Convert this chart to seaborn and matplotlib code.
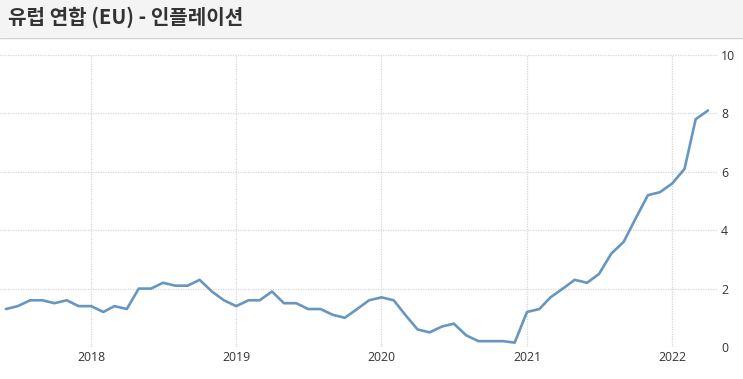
import pandas as pd
import numpy as np
import seaborn as sns
import matplotlib.pyplot as plt
import matplotlib.dates as mdates
from matplotlib.patches import Rectangle
from matplotlib.lines import Line2D

# EU inflation, monthly, Jun 2017 - Apr 2022
start_month = "2017-06-01"
inflation = [
    1.3, 1.4, 1.6, 1.6, 1.5, 1.6, 1.4,                          # 2017 Jun-Dec
    1.4, 1.2, 1.4, 1.3, 2.0, 2.0, 2.2, 2.1, 2.1, 2.3, 1.9, 1.6,  # 2018
    1.4, 1.6, 1.6, 1.9, 1.5, 1.5, 1.3, 1.3, 1.1, 1.0, 1.3, 1.6,  # 2019
    1.7, 1.6, 1.1, 0.6, 0.5, 0.7, 0.8, 0.4, 0.2, 0.2, 0.2, 0.15, # 2020
    1.2, 1.3, 1.7, 2.0, 2.3, 2.2, 2.5, 3.2, 3.6, 4.4, 5.2, 5.3,  # 2021
    5.6, 6.1, 7.8, 8.1,                                          # 2022 Jan-Apr
]
year_ticks = ["2018", "2019", "2020", "2021", "2022"]
y_ticks = [0, 2, 4, 6, 8, 10]
title = "유럽 연합 (EU) - 인플레이션"

df = pd.DataFrame({
    "date": pd.date_range(start_month, periods=len(inflation), freq="MS"),
    "value": inflation,
})

sns.set_style("white")
plt.rcParams["font.family"] = ["Open Sans", "Noto Sans CJK KR", "DejaVu Sans"]

W, H = 743, 379
fig = plt.figure(figsize=(W / 100, H / 100), dpi=100)

# title bar
fig.patches.append(Rectangle((0, 1 - 37 / H), 1, 37 / H, transform=fig.transFigure,
                             facecolor="#f4f4f4", edgecolor="none", zorder=0))
fig.lines.append(Line2D([0, 1], [1 - 37.5 / H] * 2, transform=fig.transFigure,
                        color="#d2d2d2", lw=1))
fig.text(8 / W, 1 - 17 / H, title, ha="left", va="center", fontsize=14.5,
         fontweight="bold", color="#333333",
         family=["Noto Sans CJK KR", "DejaVu Sans"])

ax = fig.add_axes([0, 1 - 347 / H, 717 / W, (347 - 55) / H])
sns.lineplot(data=df, x="date", y="value", ax=ax, color="#6796c0", lw=1.9,
             solid_joinstyle="round", solid_capstyle="round")

# x scale: Jan 2018 at px 91, 145.3 px per year
t0 = mdates.date2num(pd.Timestamp("2018-01-01"))
ppd = 145.3 / 365.25
ax.set_xlim(t0 - 91 / ppd, t0 + (717 - 91) / ppd)
ax.set_ylim(0, 10)

ax.set_xticks([mdates.date2num(pd.Timestamp(f"{y}-01-01")) for y in year_ticks])
ax.set_xticklabels(year_ticks)
ax.set_yticks(y_ticks)
ax.yaxis.tick_right()
ax.tick_params(axis="both", length=0, labelsize=8.8, labelcolor="#333333")
ax.tick_params(axis="y", pad=3)
ax.tick_params(axis="x", pad=3)
ax.grid(True, color="#d6d6d6", lw=0.9, ls=(0, (1, 1)))
ax.set_xlabel("")
ax.set_ylabel("")
for s in ax.spines.values():
    s.set_visible(False)

fig.savefig("out.png", dpi=100)
